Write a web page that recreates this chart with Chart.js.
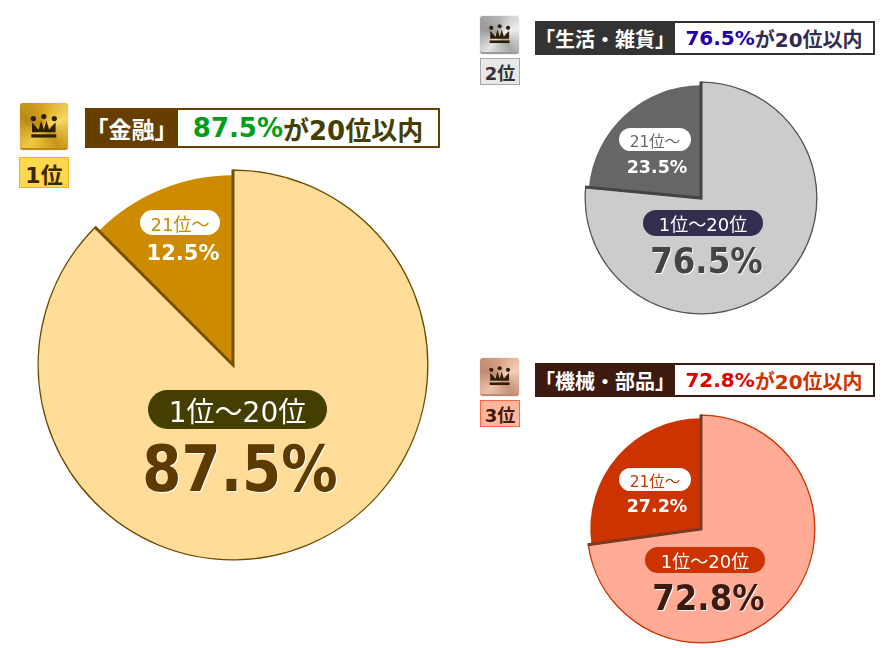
<!DOCTYPE html>
<html lang="ja">
<head>
<meta charset="utf-8">
<title>20位以内シェア</title>
<script src="https://cdn.jsdelivr.net/npm/chart.js@4/dist/chart.umd.min.js"></script>
<style>
html, body { margin: 0; padding: 0; background: #fff; }
#stage { position: relative; width: 888px; height: 648px; overflow: hidden;
  font-family: "DejaVu Sans", "Noto Sans CJK JP", sans-serif; }
#stage canvas { position: absolute; }
.box { position: absolute; box-sizing: border-box; display: flex; align-items: center;
  justify-content: center; white-space: nowrap; }
.squeeze { display: inline-block; }
.crown svg { display: block; width: 70%; height: 70%; }
</style>
</head>
<body>
<div id="stage"></div>
<script>
const categories = ['1位～20位', '21位～'];
const genres = ['金融', '生活・雑貨', '機械・部品'];
const ranks = ['1位', '2位', '3位'];
const topShare = [87.5, 76.5, 72.8];
const restShare = [12.5, 23.5, 27.2];
const headerSuffix = 'が20位以内';

// placement and colours of each of the three pies
const panels = [
    {
        cx: 233, cy: 365, r: 195.5, rInner: 190,
        fill: '#ffdd99', dark: '#cc8b00', outline: '#6b4a00', divider: '#7a5000',
        crown: [20, 103, 48, 47], metal: ['#d9a520', '#f5d860', '#c8951a', '#f0c840', '#b98a18'],
        tag: [19, 157, 50, 31, 22], tagBg: '#ffd84d', tagBorder: '#ffaa22', tagColor: '#3d2500',
        head: [85, 108, 355, 40, 93], headBg: '#663f00', headFont: 23,
        pctFont: 26, pctColor: '#009e17', suffixColor: '#443f00',
        restPill: [140, 210, 80, 25, 18], restText: [183, 253, 21], restColor: '#cc8b00',
        topPill: [148, 390, 179, 39, 28], topPillBg: '#443f00',
        topText: [240, 469, 64, 0.88], topColor: '#5c3a00'
    },
    {
        cx: 701, cy: 198, r: 116.5, rInner: 113,
        fill: '#cccccc', dark: '#666666', outline: '#555555', divider: '#444444',
        crown: [480, 16, 39, 38], metal: ['#b5b5b5', '#eeeeee', '#a8a8a8', '#e2e2e2', '#9a9a9a'],
        tag: [480, 58, 40, 27, 18], tagBg: '#e8e8e8', tagBorder: '#a8a8a8', tagColor: '#333333',
        head: [535, 21, 340, 34, 140], headBg: '#333333', headFont: 20,
        pctFont: 20, pctColor: '#2200aa', suffixColor: '#332d4f',
        restPill: [619, 128, 72, 23, 15.5], restText: [657, 167, 17.5], restColor: '#666666',
        topPill: [643, 210, 120, 26, 18], topPillBg: '#332d4f',
        topText: [706, 260, 36, 0.9], topColor: '#444444'
    },
    {
        cx: 701, cy: 529, r: 114.5, rInner: 111,
        fill: '#ffab96', dark: '#cc3300', outline: '#cc3300', divider: '#7a3a22',
        crown: [480, 358, 39, 38], metal: ['#d9a084', '#f4cdb8', '#c8937a', '#eec0a8', '#c08a70'],
        tag: [480, 400, 40, 27, 18], tagBg: '#ffb69c', tagBorder: '#ff6644', tagColor: '#3d1a0f',
        head: [535, 363, 340, 34, 140], headBg: '#3d1a0f', headFont: 20,
        pctFont: 20, pctColor: '#dd0000', suffixColor: '#cc3300',
        restPill: [619, 468, 72, 23, 15.5], restText: [657, 506, 17.5], restColor: '#cc3300',
        topPill: [645, 547, 120, 26, 18], topPillBg: '#cc3300',
        topText: [708, 597, 36, 0.9], topColor: '#3d1a0f'
    }
];

const stage = document.getElementById('stage');

// small slice is drawn a little short of the big one, with heavy radial lines
const slicePlugin = {
    id: 'slicePlugin',
    afterDatasetsUpdate(chart, args, opts) {
        const rest = chart.getDatasetMeta(0).data[1];
        rest.outerRadius = opts.rInner;
    },
    afterDatasetsDraw(chart, args, opts) {
        const big = chart.getDatasetMeta(0).data[0];
        const ctx = chart.ctx;
        ctx.save();
        ctx.strokeStyle = opts.color;
        ctx.lineWidth = 3;
        ctx.lineCap = 'butt';
        ctx.lineJoin = 'miter';
        ctx.beginPath();
        ctx.moveTo(big.x + Math.cos(big.startAngle) * big.outerRadius, big.y + Math.sin(big.startAngle) * big.outerRadius);
        ctx.lineTo(big.x, big.y);
        ctx.lineTo(big.x + Math.cos(big.endAngle) * big.outerRadius, big.y + Math.sin(big.endAngle) * big.outerRadius);
        ctx.stroke();
        ctx.restore();
    }
};

function addBox(rect, css, text) {
    const el = document.createElement('div');
    el.className = 'box';
    el.style.left = rect[0] + 'px';
    el.style.top = rect[1] + 'px';
    el.style.width = rect[2] + 'px';
    el.style.height = rect[3] + 'px';
    Object.assign(el.style, css);
    if (text) el.textContent = text;
    stage.appendChild(el);
    return el;
}

function addCentered(x, y, size, color, text, scale, shadow) {
    const el = addBox([x - 150, y - 40, 300, 80], {
        fontSize: size + 'px', fontWeight: 'bold', color: color
    });
    const span = document.createElement('span');
    span.className = 'squeeze';
    span.textContent = text;
    if (scale) span.style.transform = 'scaleX(' + scale + ')';
    if (shadow) span.style.textShadow = shadow;
    el.appendChild(span);
}

function addCrown(p) {
    const el = addBox(p.crown, {
        background: 'conic-gradient(' + p.metal.join(',') + ',' + p.metal[0] + ')',
        borderRadius: '3px', borderBottom: '2px solid ' + p.metal[4], boxShadow: '0 0 1px #999'
    });
    el.classList.add('crown');
    el.innerHTML = '<svg viewBox="0 0 48 48" fill="#2e1f06">'
        + '<circle cx="8" cy="13" r="4"/><circle cx="24" cy="10" r="4"/><circle cx="40" cy="13" r="4"/>'
        + '<path d="M6 19 L11 24 L16 30 L20 16 L24 30 L28 16 L32 30 L37 24 L42 19 L42 34 L6 34 Z"/>'
        + '<rect x="5" y="37" width="38" height="5"/></svg>';
}

function addHeader(p, i) {
    const [x, y, w, h, split] = p.head;
    addBox([x, y, w, h], { background: p.headBg });
    addBox([x, y, split, h], {
        color: '#fff', fontWeight: 'bold', fontSize: p.headFont + 'px', fontFamily: '"Noto Sans CJK JP", sans-serif'
    }, '「' + genres[i] + '」');
    const white = addBox([x + split, y + 2, w - split - 2, h - 4], {
        background: '#fff', fontWeight: 'bold', color: p.suffixColor, fontSize: p.pctFont + 'px'
    });
    const pct = document.createElement('span');
    pct.style.color = p.pctColor;
    pct.textContent = topShare[i].toFixed(1) + '%';
    const rest = document.createElement('span');
    rest.textContent = headerSuffix;
    white.appendChild(pct);
    white.appendChild(rest);
}

panels.forEach((p, i) => {
    const size = Math.ceil(p.r) * 2 + 10;
    const canvas = document.createElement('canvas');
    canvas.width = size;
    canvas.height = size;
    canvas.style.left = (p.cx - size / 2) + 'px';
    canvas.style.top = (p.cy - size / 2) + 'px';
    canvas.style.width = size + 'px';
    canvas.style.height = size + 'px';
    stage.appendChild(canvas);

    new Chart(canvas, {
        type: 'pie',
        plugins: [slicePlugin],
        data: {
            labels: categories,
            datasets: [{
                data: [topShare[i], restShare[i]],
                backgroundColor: [p.fill, p.dark],
                borderColor: [p.outline, p.dark],
                borderWidth: [1, 0],
                radius: p.r,
                borderAlign: 'inner'
            }]
        },
        options: {
            responsive: false,
            animation: false,
            layout: { padding: 0 },
            plugins: {
                legend: { display: false },
                tooltip: { enabled: false },
                slicePlugin: { rInner: p.rInner, color: p.divider }
            }
        }
    });

    addCrown(p);
    addBox(p.tag, {
        background: p.tagBg, border: '1px solid ' + p.tagBorder, color: p.tagColor,
        fontWeight: 'bold', fontSize: p.tag[4] + 'px'
    }, ranks[i]);
    addHeader(p, i);

    addBox(p.restPill, {
        background: '#fff', borderRadius: '13px', color: p.restColor, fontSize: p.restPill[4] + 'px'
    }, categories[1]);
    addCentered(p.restText[0], p.restText[1], p.restText[2], '#fff', restShare[i].toFixed(1) + '%');

    addBox(p.topPill, {
        background: p.topPillBg, borderRadius: '20px', color: '#fff', fontSize: p.topPill[4] + 'px'
    }, categories[0]);
    addCentered(p.topText[0], p.topText[1], p.topText[2], p.topColor, topShare[i].toFixed(1) + '%', p.topText[3], '1px 1px 0 #fff');
});
</script>
</body>
</html>
